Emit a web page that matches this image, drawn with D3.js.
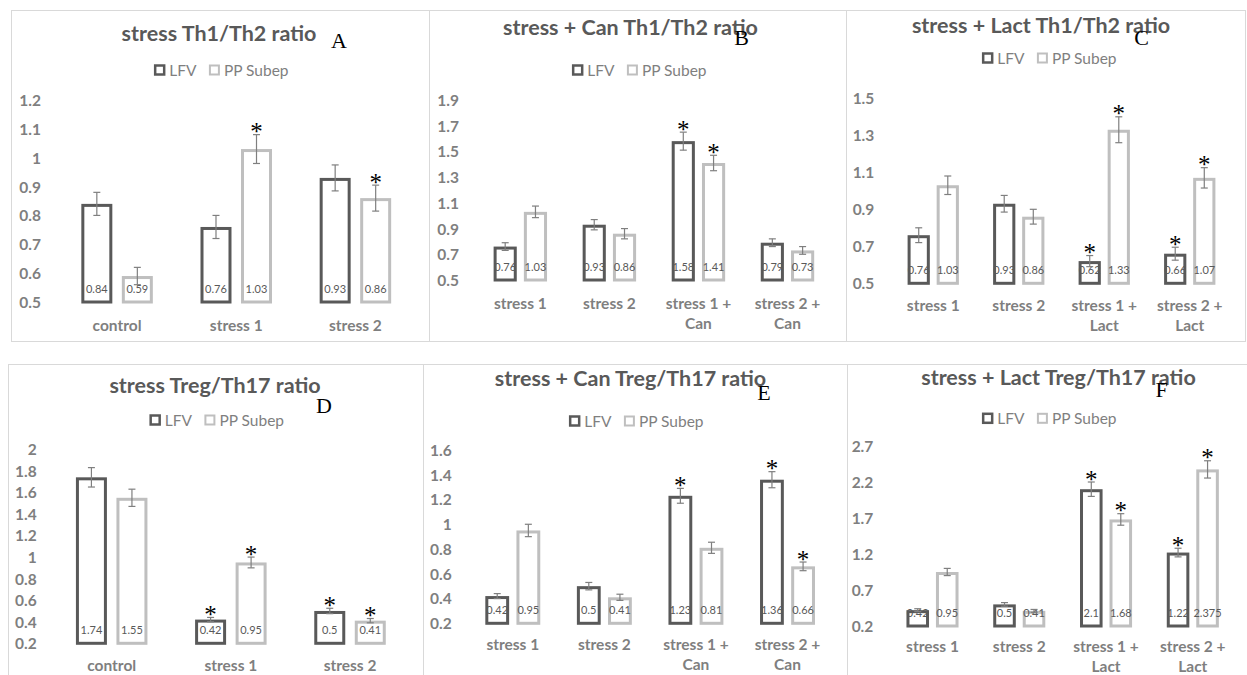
<!DOCTYPE html>
<html><head><meta charset="utf-8">
<script src="https://cdn.jsdelivr.net/npm/d3@7"></script>
<style>
html,body{margin:0;padding:0;background:#fff;}
svg{display:block;}
</style></head>
<body>
<svg id="chart" width="1247" height="675"></svg>
<script>
// ---------- DATA ----------
const seriesNames = ["LFV", "PP Subep"];

const catsA = ["control", "stress 1", "stress 2"];
const lfvA = [0.84, 0.76, 0.93];
const ppA = [0.59, 1.03, 0.86];
const errLfvA = [0.04, 0.04, 0.045];
const errPpA = [0.03, 0.05, 0.045];
const sigLfvA = [false, false, false];
const sigPpA = [false, true, true];
const ticksA = [0.5, 0.6, 0.7, 0.8, 0.9, 1, 1.1, 1.2];

const catsB = ["stress 1", "stress 2", "stress 1 +|Can", "stress 2 +|Can"];
const lfvB = [0.76, 0.93, 1.58, 0.79];
const ppB = [1.03, 0.86, 1.41, 0.73];
const errLfvB = [0.03, 0.04, 0.07, 0.03];
const errPpB = [0.045, 0.04, 0.06, 0.03];
const sigLfvB = [false, false, true, false];
const sigPpB = [false, false, true, false];
const ticksB = [0.5, 0.7, 0.9, 1.1, 1.3, 1.5, 1.7, 1.9];

const catsC = ["stress 1", "stress 2", "stress 1 +|Lact", "stress 2 +|Lact"];
const lfvC = [0.76, 0.93, 0.62, 0.66];
const ppC = [1.03, 0.86, 1.33, 1.07];
const errLfvC = [0.04, 0.045, 0.03, 0.035];
const errPpC = [0.05, 0.04, 0.07, 0.055];
const sigLfvC = [false, false, true, true];
const sigPpC = [false, false, true, true];
const ticksC = [0.5, 0.7, 0.9, 1.1, 1.3, 1.5];

const catsD = ["control", "stress 1", "stress 2"];
const lfvD = [1.74, 0.42, 0.5];
const ppD = [1.55, 0.95, 0.41];
const errLfvD = [0.09, 0.02, 0.025];
const errPpD = [0.08, 0.05, 0.02];
const sigLfvD = [false, true, true];
const sigPpD = [false, true, true];
const ticksD = [0.2, 0.4, 0.6, 0.8, 1, 1.2, 1.4, 1.6, 1.8, 2];

const catsE = ["stress 1", "stress 2", "stress 1 +|Can", "stress 2 +|Can"];
const lfvE = [0.42, 0.5, 1.23, 1.36];
const ppE = [0.95, 0.41, 0.81, 0.66];
const errLfvE = [0.02, 0.03, 0.06, 0.065];
const errPpE = [0.05, 0.025, 0.045, 0.035];
const sigLfvE = [false, false, true, true];
const sigPpE = [false, false, false, true];
const ticksE = [0.2, 0.4, 0.6, 0.8, 1, 1.2, 1.4, 1.6];

const catsF = ["stress 1", "stress 2", "stress 1 +|Lact", "stress 2 +|Lact"];
const lfvF = [0.42, 0.5, 2.1, 1.22];
const ppF = [0.95, 0.41, 1.68, 2.375];
const errLfvF = [0.02, 0.025, 0.1, 0.06];
const errPpF = [0.05, 0.02, 0.08, 0.12];
const sigLfvF = [false, false, true, true];
const sigPpF = [false, false, true, true];
const ticksF = [0.2, 0.7, 1.2, 1.7, 2.2, 2.7];

const titles = ["stress Th1/Th2 ratio", "stress + Can Th1/Th2 ratio", "stress + Lact Th1/Th2 ratio",
                "stress Treg/Th17 ratio", "stress + Can Treg/Th17 ratio", "stress + Lact Treg/Th17 ratio"];
const letters = ["A", "B", "C", "D", "E", "F"];

// ---------- LAYOUT ----------
const panels = [
  {cats: catsA, lfv: lfvA, pp: ppA, elfv: errLfvA, epp: errPpA, slfv: sigLfvA, spp: sigPpA, ticks: ticksA,
   box: [11, 10, 429, 341], xr: [57.5, 415], yr: [302, 100], tickX: 41,
   titleX: 219, titleY: 41, letX: 339, letY: 48, legX: 222, legY: 70, catY: 325},
  {cats: catsB, lfv: lfvB, pp: ppB, elfv: errLfvB, epp: errPpB, slfv: sigLfvB, spp: sigPpB, ticks: ticksB,
   box: [429, 10, 846, 341], xr: [475.8, 832], yr: [280, 100], tickX: 459,
   titleX: 630.5, titleY: 35, letX: 741.5, letY: 45, legX: 640, legY: 70, catY: 303},
  {cats: catsC, lfv: lfvC, pp: ppC, elfv: errLfvC, epp: errPpC, slfv: sigLfvC, spp: sigPpC, ticks: ticksC,
   box: [846, 10, 1245, 341], xr: [890.5, 1232.5], yr: [283.3, 98.3], tickX: 874.3,
   titleX: 1041, titleY: 32.5, letX: 1141.5, letY: 45, legX: 1050, legY: 58, catY: 305},
  {cats: catsD, lfv: lfvD, pp: ppD, elfv: errLfvD, epp: errPpD, slfv: sigLfvD, spp: sigPpD, ticks: ticksD,
   box: [8, 364, 423, 720], xr: [52.1, 409.6], yr: [643.3, 449.3], tickX: 36.7,
   titleX: 215, titleY: 393, letX: 324, letY: 412.5, legX: 217.5, legY: 420, catY: 665},
  {cats: catsE, lfv: lfvE, pp: ppE, elfv: errLfvE, epp: errPpE, slfv: sigLfvE, spp: sigPpE, ticks: ticksE,
   box: [423, 364, 847, 720], xr: [467, 833.3], yr: [623.3, 450], tickX: 451.7,
   titleX: 630.5, titleY: 386, letX: 764, letY: 400, legX: 637, legY: 421, catY: 644},
  {cats: catsF, lfv: lfvF, pp: ppF, elfv: errLfvF, epp: errPpF, slfv: sigLfvF, spp: sigPpF, ticks: ticksF,
   box: [847, 364, 1252, 720], xr: [889.1, 1236.2], yr: [626, 446], tickX: 873.3,
   titleX: 1058.5, titleY: 385, letX: 1161.7, letY: 397, legX: 1050, legY: 418.3, catY: 646}
];

const COL_LFV = "#595959", COL_PP = "#bfbfbf";
const SW = 3;
const FONT = "Lato, 'Open Sans', sans-serif";
const svg = d3.select("#chart");

panels.forEach((p, pi) => {
  const g = svg.append("g");
  // panel frame
  g.append("rect")
    .attr("x", p.box[0] + 0.5).attr("y", p.box[1] + 0.5)
    .attr("width", p.box[2] - p.box[0]).attr("height", p.box[3] - p.box[1])
    .attr("fill", "#fff").attr("stroke", "#d9d9d9").attr("stroke-width", 1);

  const y = d3.scaleLinear().domain([p.ticks[0], p.ticks[p.ticks.length - 1]]).range(p.yr);
  const x0 = d3.scaleBand().domain(p.cats).range(p.xr).padding(0);
  const S = x0.step();
  const x1 = d3.scaleBand().domain(seriesNames)
    .range([x0.bandwidth() / 2 - 0.3 * S, x0.bandwidth() / 2 + 0.3 * S])
    .paddingInner(0.235).paddingOuter(0);

  // y axis (labels only)
  const yAxis = d3.axisLeft(y).tickValues(p.ticks).tickSize(0).tickPadding(0)
    .tickFormat(d => String(+d.toFixed(2)));
  const ya = g.append("g").attr("transform", `translate(${p.tickX},0)`).call(yAxis);
  ya.select(".domain").remove();
  ya.selectAll("text").attr("font-family", FONT).attr("font-size", 15.5).attr("font-weight", "bold")
    .attr("fill", "#7f7f7f").attr("dy", "0.35em");

  // x axis labels
  const xAxis = d3.axisBottom(x0).tickSize(0).tickFormat("");
  const xa = g.append("g").attr("transform", `translate(0,${p.catY})`).call(xAxis);
  xa.select(".domain").remove();
  xa.selectAll(".tick").each(function (d) {
    const lines = d.split("|");
    const t = d3.select(this).append("text")
      .attr("font-family", FONT).attr("font-size", 15.5).attr("font-weight", "bold")
      .attr("fill", "#7f7f7f").attr("text-anchor", "middle");
    lines.forEach((ln, i) => {
      t.append("tspan").attr("x", 0).attr("y", 5.5 + i * 20.5).text(ln);
    });
  });

  const rows = p.cats.map((c, i) => ({
    cat: c,
    vals: [
      {s: "LFV", v: p.lfv[i], e: p.elfv[i], sig: p.slfv[i], col: COL_LFV},
      {s: "PP Subep", v: p.pp[i], e: p.epp[i], sig: p.spp[i], col: COL_PP}
    ]
  }));

  const grp = g.selectAll(".grp").data(rows).enter().append("g")
    .attr("transform", d => `translate(${x0(d.cat)},0)`);
  const bar = grp.selectAll(".bar").data(d => d.vals).enter().append("g");

  bar.append("rect")
    .attr("x", d => x1(d.s) + SW / 2)
    .attr("y", d => y(d.v) + SW / 2)
    .attr("width", x1.bandwidth() - SW)
    .attr("height", d => y(p.ticks[0]) - y(d.v) - SW / 2)
    .attr("fill", "#fff").attr("stroke", d => d.col).attr("stroke-width", SW);

  // value labels
  bar.append("text")
    .attr("x", d => x1(d.s) + x1.bandwidth() / 2)
    .attr("y", y(p.ticks[0]) - 9)
    .attr("text-anchor", "middle")
    .attr("font-family", FONT).attr("font-size", 11).attr("fill", "#595959")
    .text(d => String(d.v));

  // error bars
  const ex = d => x1(d.s) + x1.bandwidth() / 2;
  bar.append("line")
    .attr("x1", ex).attr("x2", ex)
    .attr("y1", d => y(d.v + d.e)).attr("y2", d => y(d.v - d.e))
    .attr("stroke", "#7f7f7f").attr("stroke-width", 1.2);
  [1, -1].forEach(sgn => {
    bar.append("line")
      .attr("x1", d => ex(d) - 3.5).attr("x2", d => ex(d) + 3.5)
      .attr("y1", d => y(d.v + sgn * d.e)).attr("y2", d => y(d.v + sgn * d.e))
      .attr("stroke", "#7f7f7f").attr("stroke-width", 1.2);
  });

  // significance asterisks
  bar.filter(d => d.sig).append("text")
    .attr("x", ex)
    .attr("y", d => y(d.v + d.e) + 5.5)
    .attr("text-anchor", "middle")
    .attr("font-family", "'Liberation Serif', 'Times New Roman', serif").attr("font-size", 25)
    .attr("fill", "#000").text("*");

  // title
  g.append("text").attr("x", p.titleX).attr("y", p.titleY)
    .attr("text-anchor", "middle").attr("font-family", FONT).attr("font-size", 21.5)
    .attr("font-weight", "bold").attr("fill", "#595959").text(titles[pi]);

  // legend
  const leg = g.append("g");
  const items = [
    {name: "LFV", col: COL_LFV},
    {name: "PP Subep", col: COL_PP}
  ];
  let lx = 0;
  const li = leg.selectAll("g").data(items).enter().append("g");
  li.append("rect").attr("y", p.legY - 4.5).attr("width", 9).attr("height", 9)
    .attr("fill", "#fff").attr("stroke", d => d.col).attr("stroke-width", d => d.name === "LFV" ? 2.5 : 2);
  li.append("text").attr("x", 14).attr("y", p.legY + 5.5)
    .attr("font-family", FONT).attr("font-size", 15.5).attr("fill", "#7f7f7f").text(d => d.name);
  li.each(function () {
    const w = this.getBBox().width;
    d3.select(this).attr("transform", `translate(${lx},0)`);
    lx += w + 13;
  });
  const totalW = lx - 13;
  leg.attr("transform", `translate(${p.legX - totalW / 2},0)`);

  // panel letter
  g.append("text").attr("x", p.letX).attr("y", p.letY)
    .attr("text-anchor", "middle")
    .attr("font-family", "'Liberation Serif', 'Times New Roman', serif").attr("font-size", 22)
    .attr("fill", "#000").text(letters[pi]);
});
</script>
</body></html>
